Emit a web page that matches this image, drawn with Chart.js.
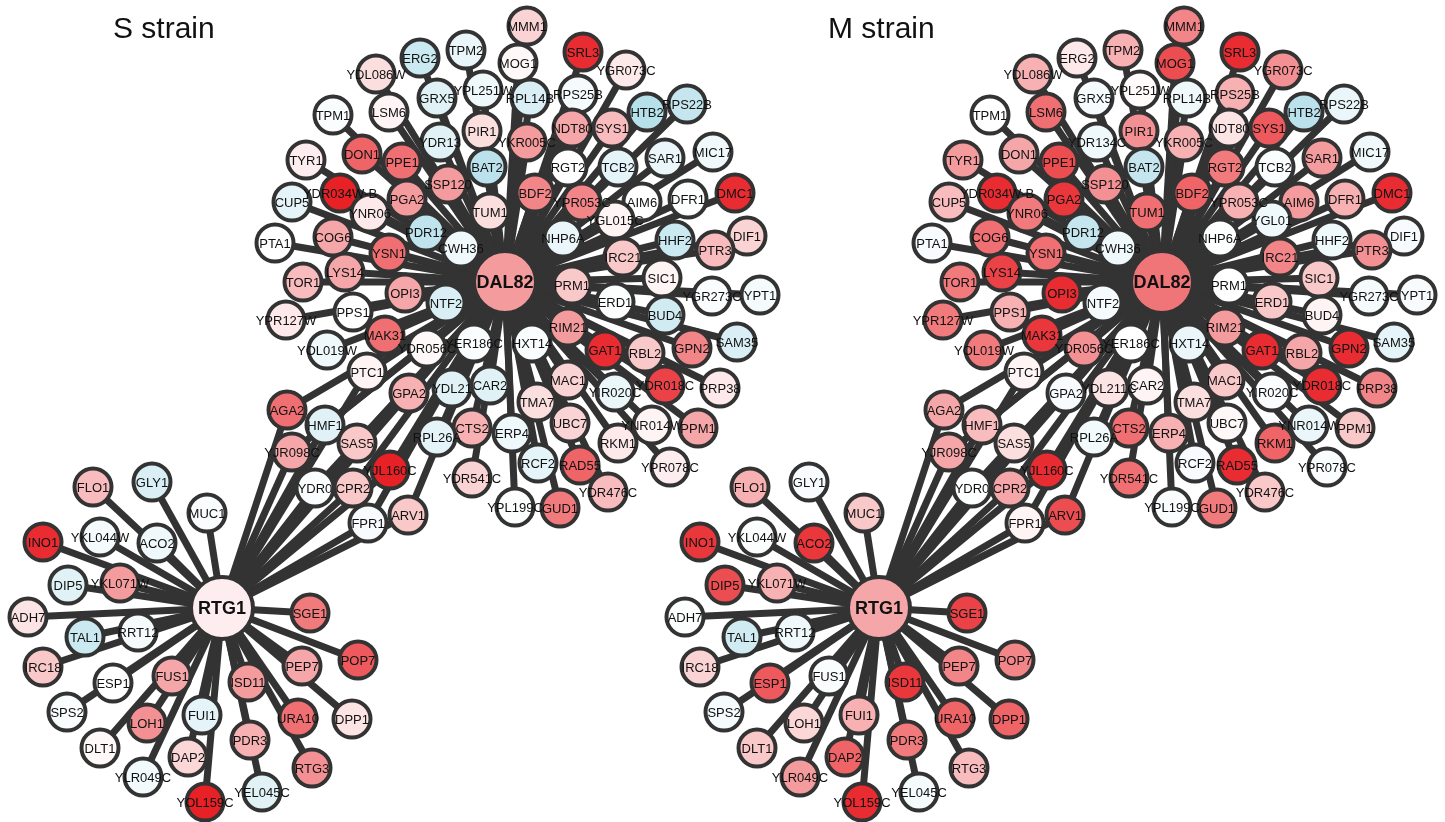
<!DOCTYPE html>
<html>
<head>
<meta charset="utf-8">
<script src="https://cdn.jsdelivr.net/npm/chart.js@4"></script>
<style>
  html,body{margin:0;padding:0;background:#fff;}
  #wrap{width:1445px;height:822px;}
</style>
</head>
<body>
<div id="wrap"><canvas id="c" width="1445" height="822"></canvas></div>
<script>
// ---------- DATA ----------
const panelTitles = ['S strain', 'M strain'];
const hubNames = ['DAL82', 'RTG1'];
const hubX = [505, 222];
const hubY = [282, 608];
const hubValS = [0.45, 0.08];
const hubValM = [0.62, 0.4];

const nodeNames = ['ERG2','TPM2','YDL086W','GRX5','YPL251W','TPM1','LSM6','PIR1','YDR13','TYR1',
 'DON1','PPE1','BAT2','SSP120','CUP5','YDR034W-B','PGA2','YNR06','TUM1','PTA1',
 'COG6','PDR12','CWH36','YSN1','LYS14','MMM1','SRL3','MOG1','YGR073C','RPL14B',
 'RPS25B','HTB2','RPS22B','NDT80','SYS1','YKR005C','MIC17','SAR1','RGT2','TCB2',
 'BDF2','YPR053C','AIM6','DFR1','DMC1','YGL015C','NHP6A','HHF2','DIF1','PTR3',
 'IRC21','SIC1','TOR1','OPI3','NTF2','PPS1','YPR127W','MAK31','YOL019W','YDR056C',
 'YER186C','PTC1','GPA2','YDL21','CAR2','AGA2','HMF1','CTS2','YJR098C','SAS5',
 'RPL26A','YJL160C','YDR541C','YDR0','CPR2','ARV1','FPR1','PRM1','ERD1','YGR273C',
 'YPT1','BUD4','RIM21','SAM35','HXT14','GAT1','RBL2','GPN2','MAC1','YIR020C',
 'YDR018C','PRP38','TMA7','UBC7','ERP4','YNR014W','PPM1','RKM1','RCF2','RAD55',
 'YPR078C','YDR476C','GUD1','YPL199C',
 'GLY1','FLO1','MUC1','YKL044W','ACO2','INO1','YKL071W','DIP5','SGE1','ADH7',
 'TAL1','RRT12','POP7','IRC18','PEP7','FUS1','ISD11','ESP1','SPS2','FUI1',
 'LOH1','URA10','DPP1','PDR3','DLT1','DAP2','RTG3','YLR049C','YEL045C','YOL159C'];
const labelOverrideM = {'YDR13':'YDR134C','YDL21':'YDL211C','YGL015C':'YGL01'};

const nodeX = [420,466,376,437,483,333,389,482,440,306,
 362,402,487,448,292,340,407,370,490,275,
 333,426,461,389,345,527,583,518,626,530,
 578,647,687,572,612,527,713,665,568,618,
 535,582,642,688,735,615,563,675,747,715,
 623,662,303,405,446,353,286,385,327,427,
 474,367,409,452,490,287,325,472,292,357,
 437,390,472,315,353,408,368,572,615,712,
 760,665,568,737,532,605,645,692,568,615,
 665,720,537,570,512,652,698,618,538,580,
 670,608,560,515,
 152,93,207,100,157,43,120,68,310,28,
 85,138,358,43,302,172,248,113,67,202,
 147,298,352,250,100,188,312,143,262,205];
const nodeY = [58,50,74,98,90,115,112,131,142,160,
 154,162,167,184,202,193,199,213,212,243,
 237,232,248,253,272,26,52,63,70,98,
 94,112,104,128,128,142,152,158,167,167,
 193,202,202,199,193,220,238,240,236,250,
 257,278,282,293,303,312,320,335,350,348,
 343,372,393,388,385,410,425,428,452,443,
 437,470,478,488,488,515,523,285,302,296,
 295,315,327,342,343,350,353,348,380,392,
 385,388,402,423,433,425,428,443,463,465,
 467,492,508,507,
 482,487,513,537,543,542,583,585,613,617,
 637,632,660,667,666,676,682,683,712,715,
 723,718,719,740,748,757,768,777,792,802];
// which hub(s) each node is linked to: D = DAL82, R = RTG1, B = both
const nodeHub = ['D','D','D','D','D','D','D','D','D','D',
 'D','D','D','D','D','D','D','D','D','D',
 'D','D','D','D','D','D','D','D','D','D',
 'D','D','D','D','D','D','D','D','D','D',
 'D','D','D','D','D','D','D','D','D','D',
 'D','D','D','D','D','D','D','D','D','D',
 'D','B','B','D','D','B','B','D','B','B',
 'D','B','D','B','B','B','B','D','D','D',
 'D','D','D','D','D','D','D','D','D','D',
 'D','D','D','D','D','D','D','D','D','D',
 'D','D','D','D',
 'R','R','R','R','R','R','R','R','R','R',
 'R','R','R','R','R','R','R','R','R','R',
 'R','R','R','R','R','R','R','R','R','R'];
// expression colour value (-1 blue .. 0 white .. +1 red)
const valS = [-0.5,-0.2,0.15,-0.3,-0.15,-0.05,0.05,0.15,-0.3,0.08,
 0.7,0.65,-0.65,0.45,-0.25,1.0,0.45,0.1,0.15,0.0,
 0.4,-0.6,-0.15,0.65,0.4,0.2,0.95,0.03,0.1,-0.35,
 -0.1,-0.7,-0.55,0.4,0.3,0.45,-0.15,-0.2,0.0,-0.25,
 0.55,0.55,0.0,-0.03,0.95,0.05,-0.2,-0.5,0.2,0.3,
 0.25,0.05,0.3,0.4,-0.35,0.0,0.1,0.65,-0.15,0.03,
 -0.05,0.05,0.35,-0.3,-0.3,0.65,-0.3,0.35,0.4,0.25,
 -0.25,1.0,0.2,-0.05,0.25,0.25,-0.08,0.25,-0.03,-0.05,
 -0.1,-0.45,0.45,-0.35,-0.05,0.95,0.25,0.55,0.2,-0.2,
 0.85,0.1,0.15,0.2,-0.15,0.05,0.4,0.1,-0.25,0.7,
 0.08,0.3,0.6,-0.03,
 -0.35,0.3,-0.05,-0.1,-0.15,0.95,0.45,-0.3,0.6,0.12,
 -0.5,-0.1,0.75,0.25,0.4,0.4,0.45,0.0,-0.05,-0.25,
 0.5,0.65,0.12,0.35,0.03,0.18,0.5,-0.12,-0.3,1.0];
const valM = [0.1,0.35,0.35,-0.1,0.02,0.0,0.65,0.5,-0.15,0.45,
 0.4,0.8,-0.55,0.5,0.3,0.95,0.9,0.6,0.65,-0.08,
 0.65,-0.55,-0.15,0.65,0.85,0.55,0.95,0.8,0.5,-0.15,
 0.35,-0.65,-0.2,0.12,0.75,0.35,-0.15,0.45,0.6,-0.05,
 0.7,0.35,0.45,0.35,0.95,-0.15,-0.02,-0.15,-0.08,0.5,
 0.55,0.25,0.6,0.95,-0.1,0.35,0.6,0.9,0.6,0.5,
 0.0,0.05,-0.08,0.12,0.05,0.4,0.3,0.65,0.4,0.15,
 -0.12,0.95,0.65,-0.02,0.4,0.8,0.05,0.0,0.25,-0.1,
 -0.08,0.05,0.45,-0.25,-0.2,0.95,0.4,0.95,0.25,-0.05,
 0.95,0.55,0.15,0.03,0.35,-0.2,0.25,0.7,-0.08,0.95,
 -0.05,0.25,0.6,-0.05,
 -0.08,0.35,0.25,-0.03,0.9,0.9,0.35,0.8,0.85,-0.03,
 -0.45,-0.15,0.55,0.2,0.55,-0.05,0.9,0.75,-0.1,0.35,
 0.18,0.7,0.7,0.6,0.25,0.7,0.3,0.45,-0.1,0.95];
const panelShiftX = [0, 657];
const titleX = [113, 828];

// ---------- STYLE ----------
const DARK = 'rgb(51,51,51)';
function colorFor(v){
  const t = Math.min(1, Math.abs(v));
  const e = v >= 0 ? [231,33,38] : [150,210,225];
  const c = [0,1,2].map(k => Math.round(255 + (e[k]-255)*t));
  return 'rgb(' + c.join(',') + ')';
}

// ---------- BUILD ----------
const datasets = [];
for (let p = 0; p < 2; p++) {
  const sx = panelShiftX[p];
  const vals = p === 0 ? valS : valM;
  const hv = p === 0 ? hubValS : hubValM;
  // edges
  for (let i = 0; i < nodeNames.length; i++) {
    const h = nodeHub[i];
    const targets = h === 'B' ? [0,1] : (h === 'D' ? [0] : [1]);
    targets.forEach(t => {
      datasets.push({
        data: [{x: hubX[t] + sx, y: hubY[t]}, {x: nodeX[i] + sx, y: nodeY[i]}],
        showLine: true, borderColor: DARK, borderWidth: 7, pointRadius: 0,
        order: 5, clip: false
      });
    });
  }
  // nodes
  const pts = [], rad = [], bg = [], lbl = [], bold = [];
  for (let i = 0; i < nodeNames.length; i++) {
    pts.push({x: nodeX[i] + sx, y: nodeY[i]});
    rad.push(18.5);
    bg.push(colorFor(vals[i]));
    let nm = nodeNames[i];
    if (p === 1 && labelOverrideM[nm]) nm = labelOverrideM[nm];
    lbl.push(nm); bold.push(false);
  }
  for (let t = 0; t < 2; t++) {
    pts.push({x: hubX[t] + sx, y: hubY[t]});
    rad.push(31);
    bg.push(colorFor(hv[t]));
    lbl.push(hubNames[t]); bold.push(true);
  }
  datasets.push({
    data: pts, showLine: false, pointRadius: rad, pointBackgroundColor: bg,
    pointBorderColor: DARK, pointBorderWidth: 4, order: 0, clip: false,
    nodeLabels: lbl, nodeBold: bold
  });
}

const labelPlugin = {
  id: 'nodeLabels',
  afterDatasetsDraw(chart) {
    const ctx = chart.ctx;
    ctx.save();
    ctx.textAlign = 'center';
    ctx.textBaseline = 'middle';
    ctx.fillStyle = '#111';
    chart.data.datasets.forEach((ds, di) => {
      if (!ds.nodeLabels) return;
      const meta = chart.getDatasetMeta(di);
      meta.data.forEach((el, i) => {
        ctx.font = ds.nodeBold[i] ? 'bold 18px "Liberation Sans", Arial, sans-serif'
                                  : '13px "Liberation Sans", Arial, sans-serif';
        ctx.fillText(ds.nodeLabels[i], el.x, el.y + 1);
      });
    });
    // panel titles
    ctx.textAlign = 'left';
    ctx.textBaseline = 'alphabetic';
    ctx.fillStyle = '#111';
    ctx.font = '30px "Liberation Sans", Arial, sans-serif';
    const xs = chart.scales.x, ys = chart.scales.y;
    panelTitles.forEach((t, k) => {
      ctx.fillText(t, xs.getPixelForValue(titleX[k]), ys.getPixelForValue(38));
    });
    ctx.restore();
  }
};

new Chart(document.getElementById('c'), {
  type: 'scatter',
  data: { datasets },
  options: {
    responsive: false,
    animation: false,
    events: [],
    layout: { padding: 0, autoPadding: false },
    plugins: { legend: { display: false }, tooltip: { enabled: false } },
    scales: {
      x: { type: 'linear', min: 0, max: 1445, display: false },
      y: { type: 'linear', min: 0, max: 822, reverse: true, display: false }
    }
  },
  plugins: [labelPlugin]
});
</script>
</body>
</html>
